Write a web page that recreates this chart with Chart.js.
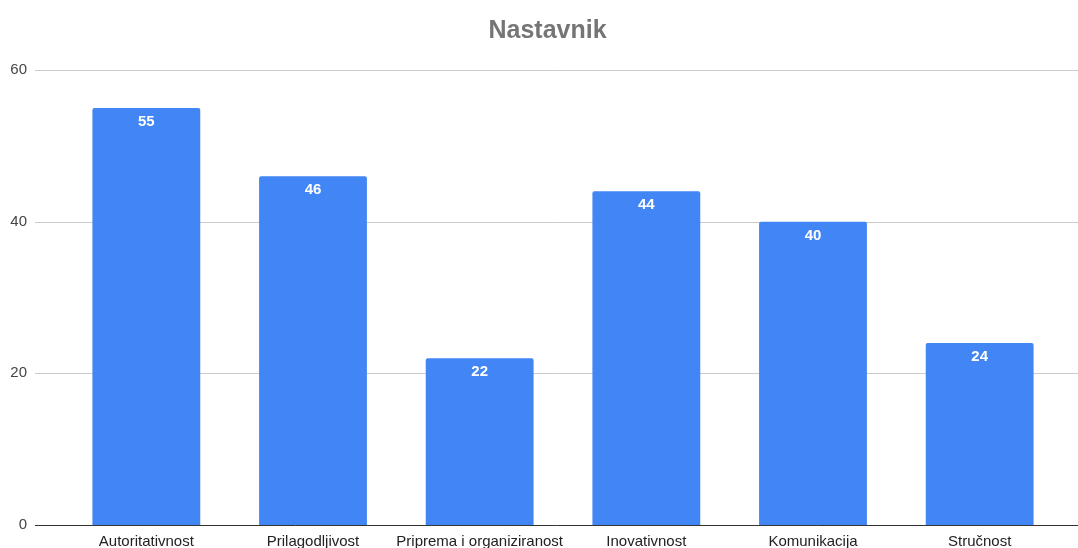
<!DOCTYPE html>
<html><head><meta charset="utf-8">
<script src="https://cdn.jsdelivr.net/npm/chart.js@4"></script>
<style>html,body{margin:0;padding:0;background:#fff;overflow:hidden;}canvas{display:block;}</style>
</head><body><canvas id="c" width="1078" height="548" style="width:1078px;height:548px"></canvas>
<script>
const categories = ["Autoritativnost", "Prilagodljivost", "Priprema i organiziranost", "Inovativnost", "Komunikacija", "Stručnost"];
const values = [55, 46, 22, 44, 40, 24];
const yTicks = [0, 20, 40, 60];
const titleText = "Nastavnik";

const FONT = "'Liberation Sans', Arial, sans-serif";

const gridPlugin = {
  id: 'gridExt',
  afterLayout(chart) {
    const t = chart.titleBlock;
    if (t) { t.left += 16; t.right += 16; }
  },
  beforeDatasetsDraw(chart) {
    const ctx = chart.ctx, y = chart.scales.y;
    ctx.save();
    yTicks.forEach(v => {
      const py = Math.round(y.getPixelForValue(v)) + 0.5;
      ctx.strokeStyle = '#cccccc';
      ctx.lineWidth = 1;
      ctx.beginPath(); ctx.moveTo(35, py); ctx.lineTo(1078, py); ctx.stroke();
    });
    ctx.restore();
  },
  afterDatasetsDraw(chart) {
    const ctx = chart.ctx, y = chart.scales.y;
    ctx.save();
    const py = Math.round(y.getPixelForValue(0)) + 0.5;
    ctx.strokeStyle = '#333333'; ctx.lineWidth = 1;
    ctx.beginPath(); ctx.moveTo(35, py); ctx.lineTo(1078, py); ctx.stroke();
    const meta = chart.getDatasetMeta(0);
    ctx.fillStyle = '#ffffff';
    ctx.font = "bold 15px " + FONT;
    ctx.textAlign = 'center'; ctx.textBaseline = 'middle';
    meta.data.forEach((bar, i) => {
      ctx.fillText(String(values[i]), bar.x, bar.y + 14);
    });
    ctx.restore();
  }
};

new Chart(document.getElementById('c'), {
  type: 'bar',
  data: {
    labels: categories,
    datasets: [{
      data: values,
      backgroundColor: '#4285F4',
      borderRadius: 2,
      borderSkipped: 'bottom',
      barPercentage: 0.647,
      categoryPercentage: 1.0
    }]
  },
  options: {
    responsive: false,
    animation: false,
    layout: { padding: { left: 0, right: 15, top: 0, bottom: 0 } },
    plugins: {
      legend: { display: false },
      tooltip: { enabled: false },
      title: {
        display: true,
        text: titleText,
        color: '#757575',
        font: { family: FONT, size: 25, weight: 'bold', lineHeight: 1.2 },
        padding: { top: 16, bottom: 24 }
      }
    },
    scales: {
      x: {
        grid: { display: false, drawTicks: false },
        border: { display: false },
        ticks: { color: '#222222', font: { family: FONT, size: 15 }, padding: 8, maxRotation: 0, autoSkip: false },
        afterFit(s) { s.height = 23; s.paddingLeft = 0; s.paddingRight = 0; }
      },
      y: {
        min: 0, max: 60,
        afterBuildTicks(s) { s.ticks = yTicks.map(v => ({ value: v })); },
        grid: { display: false, drawTicks: false },
        border: { display: false },
        ticks: { color: '#444444', font: { family: FONT, size: 15 }, padding: 36 },
        afterFit(s) { s.width = 63; s.paddingTop = 0; s.paddingBottom = 0; }
      }
    }
  },
  plugins: [gridPlugin]
});
</script></body></html>
